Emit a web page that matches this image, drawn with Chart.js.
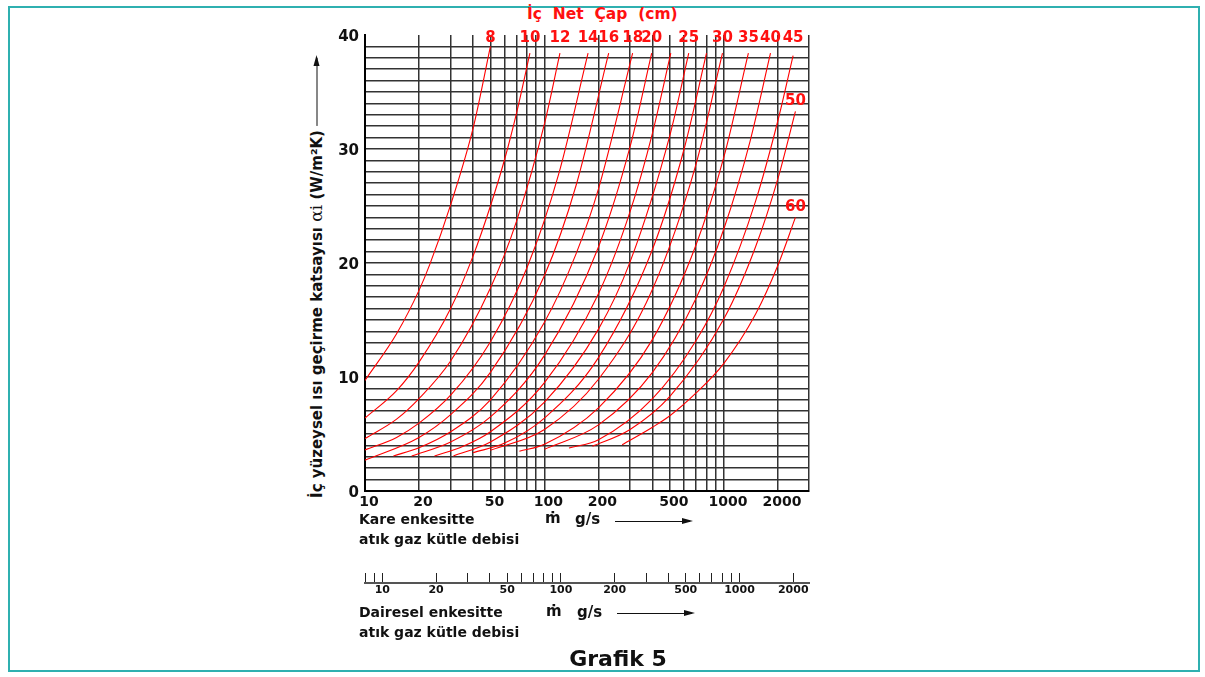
<!DOCTYPE html>
<html>
<head>
<meta charset="utf-8">
<script src="https://cdn.jsdelivr.net/npm/chart.js@4.4.0/dist/chart.umd.min.js"></script>
<style>
body { margin: 0; background: #fff; font-family: 'DejaVu Sans', Verdana, sans-serif; }
#page { position: relative; width: 1205px; height: 677px; overflow: hidden; }
#frame { position: absolute; left: 8px; top: 6px; width: 1188px; height: 662px; border: 2px solid #2fb0b0; }
.t { position: absolute; font-weight: bold; white-space: pre; color: #111; line-height: 1; font-size: 14px; }
.arr { position: absolute; height: 0; border-top: 1.5px solid #111; }
.arr::after { content: ''; position: absolute; right: -3px; top: -4.5px; border-left: 11px solid #111;
  border-top: 3.5px solid transparent; border-bottom: 3.5px solid transparent; }
#ytitle { position: absolute; left: 316px; top: 278px; transform: translate(-50%, -50%) rotate(-90deg);
  white-space: nowrap; font-weight: bold; font-size: 15px; color: #111; line-height: 1; }
#ytitle .alpha { font-family: 'DejaVu Serif', serif; font-weight: normal; font-size: 17px; }
#ytitle .line { display: inline-block; width: 68px; height: 0; border-top: 1.5px solid #111; vertical-align: middle; position: relative; margin-left: 4px; }
#ytitle .line::after { content: ''; position: absolute; right: -3px; top: -4.5px; border-left: 11px solid #111;
  border-top: 3.5px solid transparent; border-bottom: 3.5px solid transparent; }
canvas { position: absolute; }
</style>
</head>
<body>
<div id="page">
  <div id="frame"></div>
  <div class="t" style="left:527px; top:7px; color:#ff1010; font-size:15.5px;">İç  Net  Çap  (cm)</div>
  <div id="ytitle">İç yüzeysel ısı geçirme katsayısı  <span class="alpha">αi</span>  (W/m²K)<span class="line"></span></div>
  <canvas id="main" width="520" height="520" style="left:300px; top:0px;"></canvas>
  <div class="t" style="left:359px; top:512px;">Kare enkesitte</div>
  <div class="t" style="left:359px; top:532px;">atık gaz kütle debisi</div>
  <div class="t" style="left:545px; top:511px; font-size:15px;">ṁ</div>
  <div class="t" style="left:575px; top:512px; font-size:15px;">g/s</div>
  <div class="arr" style="left:615px; top:521px; width:75px;"></div>
  <canvas id="circ" width="520" height="45" style="left:300px; top:560px;"></canvas>
  <div class="t" style="left:359px; top:605px;">Dairesel enkesitte</div>
  <div class="t" style="left:359px; top:625px;">atık gaz kütle debisi</div>
  <div class="t" style="left:546px; top:604px; font-size:15px;">ṁ</div>
  <div class="t" style="left:577px; top:605px; font-size:15px;">g/s</div>
  <div class="arr" style="left:617px; top:613px; width:75px;"></div>
  <div class="t" style="left:618px; top:659px; font-size:22px; transform:translate(-50%,-50%);">Grafik 5</div>
</div>
<script>
// curve names (inner diameter, cm) - two curves carry no printed label
var curveTags = ['8', '10', '12', '14', '16', '18', '20', '', '25', '', '30', '35', '40', '45', '50', '60']

// mass flow g/s and alpha W/m2K, one pair per curve
var flow8 = [10, 15, 20, 23, 30, 40, 50]
var alpha8 = [9.7, 13.8, 17.6, 19.9, 25.1, 31.8, 39.0]
var flow10 = [10, 15, 20, 30, 40, 50, 60, 70, 83]
var alpha10 = [6.4, 8.8, 11.3, 16.0, 20.6, 25.0, 29.1, 33.2, 38.4]
var flow12 = [10, 15, 20, 30, 50, 70, 100, 122]
var alpha12 = [4.6, 6.3, 8.1, 11.4, 17.8, 23.7, 32.2, 38.4]
var flow14 = [10, 15, 20, 30, 50, 80, 120, 175]
var alpha14 = [3.6, 4.7, 5.95, 8.4, 13.1, 19.6, 27.8, 38.4]
var flow16 = [10, 20, 30, 50, 100, 150, 228]
var alpha16 = [2.7, 4.7, 6.7, 10.4, 18.9, 26.8, 38.4]
var flow18 = [14.4, 20, 30, 50, 100, 150, 200, 310]
var alpha18 = [3.07, 3.8, 5.2, 8.0, 14.8, 20.8, 26.5, 38.4]
var flow20 = [18.2, 30, 50, 100, 200, 300, 396]
var alpha20 = [3.07, 4.3, 6.5, 11.9, 21.4, 30.2, 38.4]
var flow22 = [24.4, 35, 50, 100, 200, 300, 400, 506]
var alpha22 = [3.07, 3.9, 5.2, 9.5, 17.3, 24.5, 31.4, 38.4]
var flow25 = [31.1, 50, 100, 200, 300, 500, 637]
var alpha25 = [3.07, 4.3, 7.8, 14.2, 20.1, 31.2, 38.4]
var flow28 = [40, 60, 100, 200, 400, 600, 800]
var alpha28 = [3.36, 4.2, 6.4, 11.7, 21.2, 30.0, 38.4]
var flow30 = [50, 100, 200, 400, 700, 982]
var alpha30 = [3.57, 5.4, 9.8, 17.7, 28.7, 38.4]
var flow35 = [72.5, 100, 200, 400, 700, 1000, 1369]
var alpha35 = [3.48, 4.1, 7.3, 13.3, 21.6, 29.3, 38.4]
var flow40 = [100, 200, 400, 700, 1000, 1400, 1818]
var alpha40 = [3.66, 5.8, 10.4, 16.9, 23.0, 30.7, 38.4]
var flow45 = [137, 200, 400, 700, 1000, 1500, 2000, 2430]
var alpha45 = [3.77, 4.5, 8.1, 13.2, 17.9, 25.4, 32.5, 38.2]
var flow50 = [185, 300, 500, 1000, 1500, 2000, 2504]
var alpha50 = [3.92, 5.4, 8.3, 15.1, 21.4, 27.4, 33.3]
var flow60 = [271, 400, 500, 700, 1000, 1500, 2000, 2504]
var alpha60 = [4.06, 5.6, 6.6, 8.6, 11.2, 15.5, 19.8, 24.0]

var curves = [[flow8, alpha8], [flow10, alpha10], [flow12, alpha12], [flow14, alpha14],
    [flow16, alpha16], [flow18, alpha18], [flow20, alpha20], [flow22, alpha22],
    [flow25, alpha25], [flow28, alpha28], [flow30, alpha30], [flow35, alpha35],
    [flow40, alpha40], [flow45, alpha45], [flow50, alpha50], [flow60, alpha60]]

// square section axis (g/s)
var squareGrid = [10, 20, 30, 40, 50, 60, 70, 80, 90, 100, 200, 300, 400, 500, 600, 700, 800, 900, 1000, 2000, 2980]
var squareLabels = [10, 20, 50, 100, 200, 500, 1000, 2000]
// round section axis (g/s)
var roundGrid = [8, 9, 10, 20, 30, 40, 50, 60, 70, 80, 90, 100, 200, 300, 400, 500, 600, 700, 800, 900, 1000, 2000]
var roundLabels = [10, 20, 50, 100, 200, 500, 1000, 2000]
// alpha axis
var alphaLabels = [0, 10, 20, 30, 40]

var boldFont = function (size) {
    return {family: 'DejaVu Sans', size: size, weight: 'bold'}
}

// diameter tags: above the top end of each curve, or just over it when it ends inside
var curveTagPlugin = {
    id: 'curveTags',
    afterDatasetsDraw: function (chart) {
        var ctx = chart.ctx
        var yScale = chart.scales.y
        ctx.save()
        ctx.fillStyle = '#ff1010'
        ctx.font = 'bold 15px "DejaVu Sans"'
        ctx.textAlign = 'center'
        ctx.textBaseline = 'middle'
        chart.data.datasets.forEach(function (ds, i) {
            if (!ds.label) return
            var pts = chart.getDatasetMeta(i).data
            var p = pts[pts.length - 1]
            var last = ds.data[ds.data.length - 1].y
            var ty = last >= 38 ? yScale.getPixelForValue(39.7) : p.y - 10
            ctx.fillText(ds.label, p.x, ty)
        })
        ctx.restore()
    }
}

var datasets = curves.map(function (c, i) {
    return {
        label: curveTags[i],
        data: c[0].map(function (f, k) { return {x: f, y: c[1][k]} }),
        borderColor: '#ff0000',
        borderWidth: 1.1,
        pointRadius: 0,
        fill: false,
        cubicInterpolationMode: 'monotone'
    }
})

new Chart(document.getElementById('main'), {
    type: 'line',
    data: {datasets: datasets},
    options: {
        responsive: false,
        animation: false,
        devicePixelRatio: 1,
        layout: {padding: {top: 35, right: 11, left: 0, bottom: 0}},
        plugins: {legend: {display: false}, tooltip: {enabled: false}},
        scales: {
            x: {
                type: 'logarithmic',
                min: 10,
                max: 2980,
                afterBuildTicks: function (s) {
                    s.ticks = squareGrid.map(function (v) { return {value: v} })
                },
                afterFit: function (s) { s.height = 29 },
                ticks: {
                    autoSkip: false, maxRotation: 0, padding: 3, labelOffset: 4, color: '#111', font: boldFont(14),
                    callback: function (v) { return squareLabels.indexOf(v) >= 0 ? String(v) : '' }
                },
                grid: {color: '#333', lineWidth: 1.5, drawTicks: false},
                border: {color: '#000', width: 2}
            },
            y: {
                min: 0,
                max: 40,
                afterFit: function (s) { s.width = 65 },
                ticks: {
                    stepSize: 1, autoSkip: false, padding: 6, labelOffset: 2, color: '#111', font: boldFont(15),
                    callback: function (v) { return alphaLabels.indexOf(v) >= 0 ? String(v) : '' }
                },
                grid: {
                    color: function (c) { return c.tick && c.tick.value === 40 ? 'rgba(0,0,0,0)' : '#333' },
                    lineWidth: 1.5, drawTicks: false
                },
                border: {color: '#000', width: 2}
            }
        }
    },
    plugins: [curveTagPlugin]
})

new Chart(document.getElementById('circ'), {
    type: 'line',
    data: {datasets: []},
    options: {
        responsive: false,
        animation: false,
        devicePixelRatio: 1,
        layout: {padding: {top: 13, right: 11, left: 65, bottom: 0}},
        plugins: {legend: {display: false}, tooltip: {enabled: false}},
        scales: {
            x: {
                type: 'logarithmic',
                min: 8,
                max: 2450,
                afterBuildTicks: function (s) {
                    s.ticks = roundGrid.map(function (v) { return {value: v} })
                },
                afterFit: function (s) { s.height = 22 },
                ticks: {
                    autoSkip: false, maxRotation: 0, padding: 1, color: '#111', font: boldFont(11),
                    callback: function (v) { return roundLabels.indexOf(v) >= 0 ? String(v) : '' }
                },
                grid: {color: '#222', lineWidth: 1, drawTicks: false},
                border: {color: '#555', width: 2}
            },
            y: {display: false, min: 0, max: 1}
        }
    }
})
</script>
</body>
</html>
